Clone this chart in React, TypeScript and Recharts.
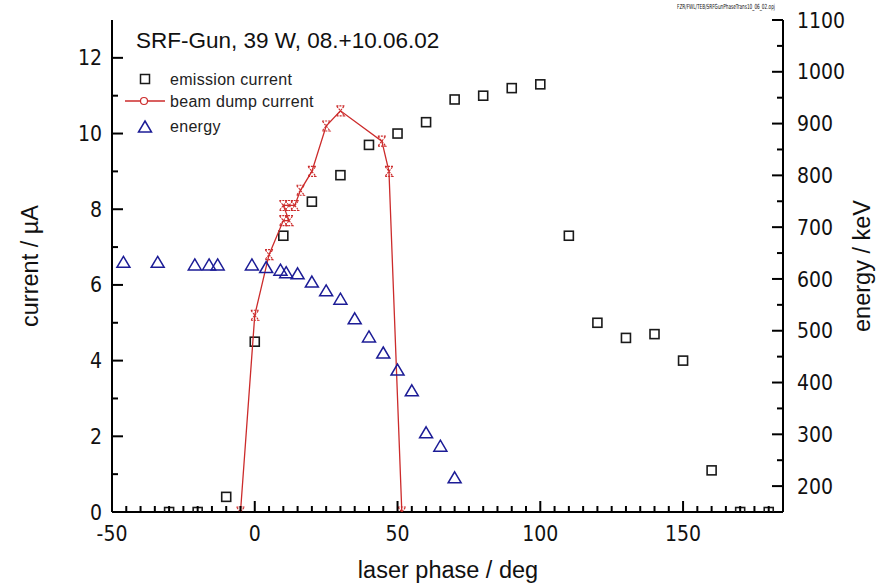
import { ComposedChart, Scatter, XAxis, YAxis } from 'recharts'

// laser phase (deg) / emission current (µA)
const emissionPhase = [-30, -20, -10, 0, 10, 20, 30, 40, 50, 60, 70, 80, 90, 100, 110, 120, 130, 140, 150, 160, 170, 180]
const emissionCurrent = [0, 0, 0.4, 4.5, 7.3, 8.2, 8.9, 9.7, 10.0, 10.3, 10.9, 11.0, 11.2, 11.3, 7.3, 5.0, 4.6, 4.7, 4.0, 1.1, 0, 0]

// beam dump current (µA), joined by a line in measurement order
const beamPhase = [-5, 0, 5, 10, 12, 10, 12, 14, 16, 20, 25, 30, 44.5, 47, 51.5]
const beamCurrent = [0, 5.2, 6.8, 7.7, 7.7, 8.1, 8.1, 8.1, 8.5, 9.0, 10.2, 10.6, 9.8, 9.0, 0]

// energy (keV) on the right axis
const energyPhase = [-46, -34, -21, -16, -13, -1, 4, 9, 11, 15, 20, 25, 30, 35, 40, 45, 50, 55, 60, 65, 70]
const energyKeV = [632, 632, 627, 627, 627, 627, 622, 617, 612, 610, 594, 577, 561, 523, 488, 457, 424, 384, 303, 277, 216]

const phaseTicks = Array.from({ length: 47 }, (_, i) => -50 + i * 5)
const currentTicks = [0, 1, 2, 3, 4, 5, 6, 7, 8, 9, 10, 11, 12]
const energyTicks = [200, 250, 300, 350, 400, 450, 500, 550, 600, 650, 700, 750, 800, 850, 900, 950, 1000, 1050, 1100]

const emissionData = emissionPhase.map((x, i) => ({ x, y: emissionCurrent[i] }))
const beamData = beamPhase.map((x, i) => ({ x, y: beamCurrent[i] }))
const energyData = energyPhase.map((x, i) => ({ x, y: energyKeV[i] }))

const NARROW = "'Liberation Sans Narrow', 'DejaVu Sans Condensed', 'Liberation Sans', Arial, sans-serif"
const SANS = "'Liberation Sans', Arial, sans-serif"
const RED = '#cc2b2b'
const BLUE = '#1c1c96'
const INK = '#111'
const TICK = '#000'

function BottomTick({ x, y, payload }: any) {
  const v = payload.value
  const major = v % 50 === 0
  return (
    <g>
      <path d={`M${x},${y}v${major ? -11 : -6}`} stroke={TICK} strokeWidth={2} />
      {major && (
        <text x={x} y={y + 29} textAnchor="middle" fontSize={21} fontFamily={NARROW} fill={INK}>
          {v}
        </text>
      )}
    </g>
  )
}

function TopTick({ x, y, payload }: any) {
  const major = payload.value % 50 === 0
  return <path d={`M${x},${y}v${major ? 11 : 6}`} stroke={TICK} strokeWidth={2} />
}

function LeftTick({ x, y, payload }: any) {
  const v = payload.value
  const major = v % 2 === 0
  return (
    <g>
      <path d={`M${x},${y}h${major ? 11 : 6}`} stroke={TICK} strokeWidth={2} />
      {major && (
        <text x={x - 10} y={y} dy="0.36em" textAnchor="end" fontSize={21} fontFamily={NARROW} fill={INK}>
          {v}
        </text>
      )}
    </g>
  )
}

function RightTick({ x, y, payload }: any) {
  const v = payload.value
  const major = v % 100 === 0
  return (
    <g>
      <path d={`M${x},${y}h${major ? -11 : -6}`} stroke={TICK} strokeWidth={2} />
      {major && (
        <text x={x + 14} y={y} dy="0.36em" textAnchor="start" fontSize={21} fontFamily={NARROW} fill={INK}>
          {v}
        </text>
      )}
    </g>
  )
}

const Square = ({ cx, cy }: any) => (
  <rect x={cx - 4.5} y={cy - 4.5} width={9} height={9} fill="none" stroke="#1a1a1a" strokeWidth={1.6} />
)

const Triangle = ({ cx, cy }: any) => (
  <polygon points={`${cx},${cy - 6} ${cx + 6.5},${cy + 5} ${cx - 6.5},${cy + 5}`} fill="none" stroke={BLUE} strokeWidth={1.5} />
)

const Hourglass = ({ cx, cy }: any) => (
  <path
    d={`M${cx - 4},${cy - 5} L${cx + 4},${cy - 5} L${cx - 4},${cy + 5} L${cx + 4},${cy + 5} Z`}
    fill="none"
    stroke={RED}
    strokeWidth={1.1}
    strokeDasharray="2 1"
  />
)

export default function App() {
  return (
    <div style={{ position: 'absolute', left: 0, top: 0, background: '#fff' }}>
      <ComposedChart width={880} height={587} margin={{ top: 20, right: 37, bottom: 45, left: 52 }}>
        <XAxis
          dataKey="x"
          type="number"
          domain={[-50, 185]}
          ticks={phaseTicks}
          interval={0}
          allowDataOverflow
          height={30}
          tickSize={0}
          tickMargin={0}
          tickLine={false}
          axisLine={{ stroke: '#000', strokeWidth: 2 }}
          tick={(p: any) => <BottomTick {...p} />}
        />
        <XAxis
          xAxisId="top"
          orientation="top"
          dataKey="x"
          type="number"
          domain={[-50, 185]}
          ticks={phaseTicks}
          interval={0}
          allowDataOverflow
          height={0}
          tickSize={0}
          tickMargin={0}
          tickLine={false}
          axisLine={{ stroke: '#000', strokeWidth: 2 }}
          tick={(p: any) => <TopTick {...p} />}
        />
        <YAxis
          yAxisId="current"
          dataKey="y"
          type="number"
          domain={[0, 13]}
          ticks={currentTicks}
          interval={0}
          allowDataOverflow
          width={60}
          tickSize={0}
          tickMargin={0}
          tickLine={false}
          axisLine={{ stroke: '#000', strokeWidth: 2 }}
          tick={(p: any) => <LeftTick {...p} />}
        />
        <YAxis
          yAxisId="energy"
          orientation="right"
          dataKey="y"
          type="number"
          domain={[150, 1100]}
          ticks={energyTicks}
          interval={0}
          allowDataOverflow
          width={60}
          tickSize={0}
          tickMargin={0}
          tickLine={false}
          axisLine={{ stroke: '#000', strokeWidth: 2 }}
          tick={(p: any) => <RightTick {...p} />}
        />
        <Scatter yAxisId="current" data={emissionData} shape={Square} isAnimationActive={false} />
        <Scatter
          yAxisId="current"
          data={beamData}
          shape={Hourglass}
          line={{ stroke: RED, strokeWidth: 1.3 }}
          lineType="joint"
          isAnimationActive={false}
        />
        <Scatter yAxisId="energy" data={energyData} shape={Triangle} isAnimationActive={false} />

        <text x={775} y={9} textAnchor="end" fontSize={7} fontFamily={NARROW} fill={INK} textLength={98} lengthAdjust="spacingAndGlyphs">
          FZR/FWL/TEB/SRFGunPhaseTrans10_06_02.opj
        </text>
        <text x={136} y={48} fontSize={22.5} fontFamily={SANS} fill={INK}>
          SRF-Gun, 39 W, 08.+10.06.02
        </text>
        <g fontFamily={SANS} fontSize={16} fill="#222" letterSpacing={0.3}>
          <rect x={140.5} y={74.5} width={9} height={9} fill="none" stroke="#1a1a1a" strokeWidth={1.5} />
          <text x={170} y={85}>emission current</text>
          <line x1={125} x2={165} y1={101} y2={101} stroke={RED} strokeWidth={1.3} />
          <circle cx={144} cy={101} r={3.5} fill="#fff" stroke={RED} strokeWidth={1.2} />
          <text x={170} y={107}>beam dump current</text>
          <polygon points="145,121 151.5,132 138.5,132" fill="none" stroke={BLUE} strokeWidth={1.5} />
          <text x={170} y={132}>energy</text>
        </g>
        <text x={30} y={266} transform="rotate(-90 30 266)" textAnchor="middle" dominantBaseline="central" fontSize={23.5} fontFamily={SANS} fill={INK}>
          current / µA
        </text>
        <text x={862} y={266} transform="rotate(-90 862 266)" textAnchor="middle" dominantBaseline="central" fontSize={23.5} fontFamily={SANS} fill={INK}>
          energy / keV
        </text>
        <text x={448} y={578} textAnchor="middle" fontSize={23.5} fontFamily={SANS} fill={INK}>
          laser phase / deg
        </text>
      </ComposedChart>
    </div>
  )
}
